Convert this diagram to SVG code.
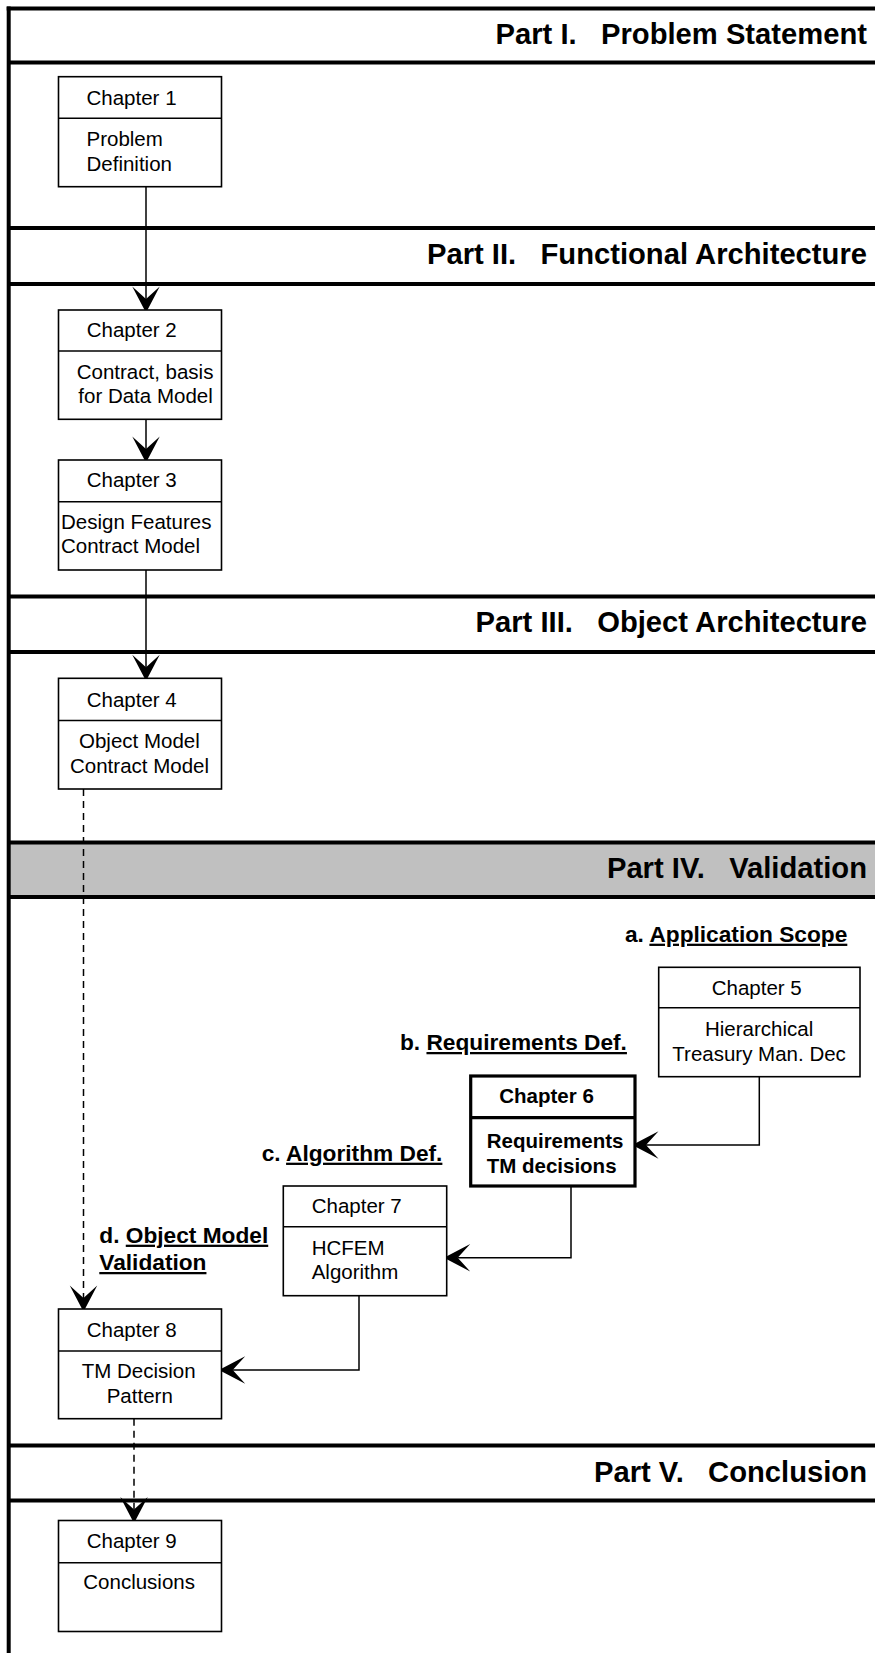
<svg xmlns="http://www.w3.org/2000/svg" width="875" height="1653" viewBox="0 0 875 1653">
  <style>
    .band-line { stroke: #000; stroke-width: 4; fill: none; }
    .box { fill: #fff; stroke: #000; stroke-width: 1.6; }
    .box-bold { fill: #fff; stroke: #000; stroke-width: 3.2; }
    .div { stroke: #000; stroke-width: 1.6; }
    .div-bold { stroke: #000; stroke-width: 3.2; }
    .title { font-family: "Liberation Sans", Arial, sans-serif; font-weight: bold; font-size: 29.2px; fill: #000; text-anchor: end; white-space: pre; }
    .txt { font-family: "Liberation Sans", Arial, sans-serif; font-size: 20.5px; fill: #000; }
    .txt-b { font-family: "Liberation Sans", Arial, sans-serif; font-size: 20.5px; font-weight: bold; fill: #000; }
    .lbl { font-family: "Liberation Sans", Arial, sans-serif; font-size: 22.7px; font-weight: bold; fill: #000; }
    .ul { text-decoration: underline; }
    .conn { stroke: #000; stroke-width: 1.5; fill: none; marker-end: url(#arrow); }
    .dash { stroke-dasharray: 7 5; }
  </style>
  <defs>
    <marker id="arrow" markerUnits="userSpaceOnUse" markerWidth="30" markerHeight="30" viewBox="-12 -12 24 24" refX="0" refY="0" orient="auto" overflow="visible">
      <path d="M11,0 L-10,-11 L0,0 L-10,11 Z" fill="#000"/>
    </marker>
  </defs>

  <!-- page background -->
  <rect x="0" y="0" width="875" height="1653" fill="#fff"/>

  <!-- part bands -->
  <g id="bands">
    <rect x="8.7" y="842.5" width="866.3" height="54.5" fill="#c0c0c0"/>
    <line class="band-line" x1="6.7" y1="8.5" x2="875" y2="8.5"/>
    <line class="band-line" x1="8.7" y1="6.5" x2="8.7" y2="1653"/>
    <line class="band-line" x1="8.7" y1="62.5" x2="875" y2="62.5"/>
    <line class="band-line" x1="8.7" y1="228" x2="875" y2="228"/>
    <line class="band-line" x1="8.7" y1="284" x2="875" y2="284"/>
    <line class="band-line" x1="8.7" y1="596.5" x2="875" y2="596.5"/>
    <line class="band-line" x1="8.7" y1="652" x2="875" y2="652"/>
    <line class="band-line" x1="8.7" y1="842.5" x2="875" y2="842.5"/>
    <line class="band-line" x1="8.7" y1="897" x2="875" y2="897"/>
    <line class="band-line" x1="8.7" y1="1445.5" x2="875" y2="1445.5"/>
    <line class="band-line" x1="8.7" y1="1500.5" x2="875" y2="1500.5"/>
    <text class="title" x="867" y="43.5" xml:space="preserve">Part I.   Problem Statement</text>
    <text class="title" x="867" y="263.5" xml:space="preserve">Part II.   Functional Architecture</text>
    <text class="title" x="867" y="631.7" xml:space="preserve">Part III.   Object Architecture</text>
    <text class="title" x="867" y="877.8" xml:space="preserve">Part IV.   Validation</text>
    <text class="title" x="867" y="1481.5" xml:space="preserve">Part V.   Conclusion</text>
  </g>

  <!-- step labels -->
  <g id="labels">
    <text class="lbl" x="625" y="941.7">a. <tspan class="ul">Application Scope</tspan></text>
    <text class="lbl" x="400" y="1050">b. <tspan class="ul">Requirements Def.</tspan></text>
    <text class="lbl" x="261.7" y="1160.7">c. <tspan class="ul">Algorithm Def.</tspan></text>
    <text class="lbl" x="99.3" y="1242.7">d. <tspan class="ul">Object Model</tspan></text>
    <text class="lbl" x="99.3" y="1270"><tspan class="ul">Validation</tspan></text>
  </g>

  <!-- connectors -->
  <g id="connectors">
    <path class="conn" d="M146,186.7 V299"/>
    <path class="conn" d="M146,419.3 V449"/>
    <path class="conn" d="M146,570 V667.3"/>
    <path class="conn dash" d="M83.5,789 V1298"/>
    <path class="conn" d="M759.3,1076.7 V1145 H646"/>
    <path class="conn" d="M571,1186 V1257.7 H457.7"/>
    <path class="conn" d="M359,1295.7 V1370 H232.7"/>
    <path class="conn dash" d="M134,1418.7 V1509.5"/>
  </g>

  <g id="ch1">
    <rect class="box" x="58.5" y="76.7" width="163" height="110"/>
    <line class="div" x1="58.5" y1="118.3" x2="221.5" y2="118.3"/>
    <text class="txt" x="86.5" y="105">Chapter 1</text>
    <text class="txt" x="86.5" y="145.7">Problem</text>
    <text class="txt" x="86.5" y="170.7">Definition</text>
  </g>

  <g id="ch2">
    <rect class="box" x="58.5" y="310" width="163" height="109.3"/>
    <line class="div" x1="58.5" y1="351" x2="221.5" y2="351"/>
    <text class="txt" x="86.7" y="337.3">Chapter 2</text>
    <text class="txt" x="76.7" y="379">Contract, basis</text>
    <text class="txt" x="78.3" y="403.3">for Data Model</text>
  </g>

  <g id="ch3">
    <rect class="box" x="58.5" y="460" width="163" height="110"/>
    <line class="div" x1="58.5" y1="501.7" x2="221.5" y2="501.7"/>
    <text class="txt" x="86.7" y="487.3">Chapter 3</text>
    <text class="txt" x="61" y="529">Design Features</text>
    <text class="txt" x="61" y="553.3">Contract Model</text>
  </g>

  <g id="ch4">
    <rect class="box" x="58.5" y="678.3" width="163" height="110.7"/>
    <line class="div" x1="58.5" y1="720.5" x2="221.5" y2="720.5"/>
    <text class="txt" x="86.7" y="706.7">Chapter 4</text>
    <text class="txt" x="79" y="748.3">Object Model</text>
    <text class="txt" x="70" y="773.3">Contract Model</text>
  </g>

  <g id="ch5">
    <rect class="box" x="658.7" y="967.3" width="201.3" height="109.4"/>
    <line class="div" x1="658.7" y1="1007.7" x2="860" y2="1007.7"/>
    <text class="txt" x="711.7" y="995">Chapter 5</text>
    <text class="txt" x="705" y="1036">Hierarchical</text>
    <text class="txt" x="672.3" y="1061">Treasury Man. Dec</text>
  </g>

  <g id="ch6">
    <rect class="box-bold" x="470.7" y="1076" width="164.3" height="110"/>
    <line class="div-bold" x1="470.7" y1="1117.7" x2="635" y2="1117.7"/>
    <text class="txt-b" x="499.3" y="1103.3">Chapter 6</text>
    <text class="txt-b" x="486.7" y="1148">Requirements</text>
    <text class="txt-b" x="486.7" y="1173">TM decisions</text>
  </g>

  <g id="ch7">
    <rect class="box" x="283.3" y="1186" width="163.4" height="109.7"/>
    <line class="div" x1="283.3" y1="1226.7" x2="446.7" y2="1226.7"/>
    <text class="txt" x="311.7" y="1213.3">Chapter 7</text>
    <text class="txt" x="311.7" y="1255">HCFEM</text>
    <text class="txt" x="311.7" y="1279.3">Algorithm</text>
  </g>

  <g id="ch8">
    <rect class="box" x="58.5" y="1309" width="163" height="109.7"/>
    <line class="div" x1="58.5" y1="1351" x2="221.5" y2="1351"/>
    <text class="txt" x="86.7" y="1336.7">Chapter 8</text>
    <text class="txt" x="81.7" y="1378.3">TM Decision</text>
    <text class="txt" x="106.7" y="1402.7">Pattern</text>
  </g>

  <g id="ch9">
    <rect class="box" x="58.5" y="1520.5" width="163" height="111"/>
    <line class="div" x1="58.5" y1="1562.7" x2="221.5" y2="1562.7"/>
    <text class="txt" x="86.7" y="1548.3">Chapter 9</text>
    <text class="txt" x="83.3" y="1589.3">Conclusions</text>
  </g>
</svg>
